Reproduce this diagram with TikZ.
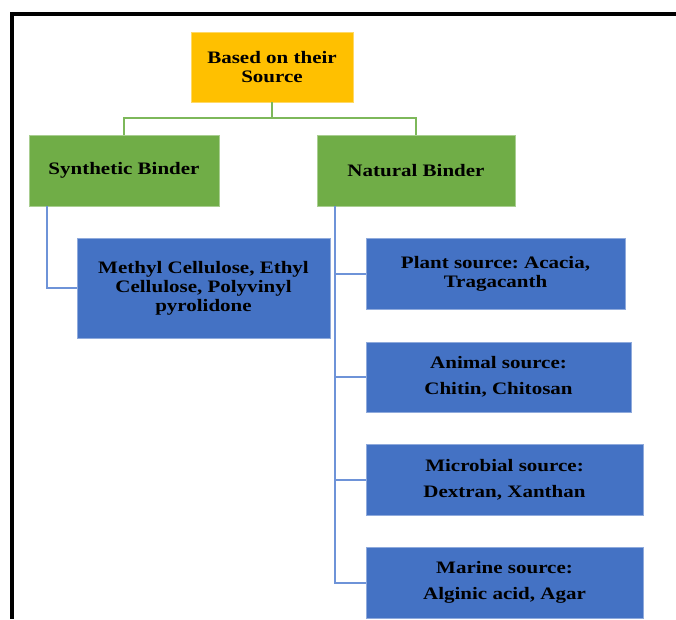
\documentclass[tikz,border=0pt]{standalone}
\usepackage{fontspec}
\setmainfont{Liberation Serif}[FakeStretch=1.2]
\frenchspacing
\definecolor{gold}{HTML}{FFC000}
\definecolor{grn}{HTML}{70AD47}
\definecolor{blu}{HTML}{4472C4}
\definecolor{grnline}{HTML}{7DB85A}
\definecolor{bluline}{HTML}{6E93D8}
\begin{document}
\begin{tikzpicture}[x=1pt,y=-1pt,
  box/.style={inner sep=0pt, align=center, font=\fontsize{17.5}{19}\selectfont\bfseries\frenchspacing, text=black, line width=0.8pt},
  goldbox/.style={box, fill=gold, draw=gold!60!white},
  grnbox/.style={box, fill=grn, draw=grn!60!white},
  blubox/.style={box, fill=blu, draw=blu!60!white},
  gconn/.style={draw=grnline, line width=2pt},
  bconn/.style={draw=bluline, line width=2pt},
  frame/.style={draw=black, line width=4pt}]
\useasboundingbox (0,0) rectangle (676,619);
\coordinate (ftl) at (12,14);
\coordinate (ftr) at (676,14);
\coordinate (fbl) at (12,619);
\draw[frame] (ftr) -- ([xshift=-2pt]ftl) (ftl) -- (fbl);

\node[goldbox, minimum width=162pt, minimum height=70pt] (top) at (272,67) {Based on their\\Source};
\node[grnbox, minimum width=190pt, minimum height=71pt] (syn) at (124,170.5) {Synthetic Binder};
\node[grnbox, minimum width=198pt, minimum height=71pt] (nat) at (416,170.5) {Natural Binder};
\node[blubox, minimum width=253pt, minimum height=100pt] (met) at (203.5,288) {Methyl Cellulose, Ethyl\\Cellulose, Polyvinyl\\pyrolidone};
\node[blubox, minimum width=259pt, minimum height=71pt] (pla) at (495.5,273.5) {Plant source: Acacia,\\Tragacanth};
\node[blubox, minimum width=265pt, minimum height=70pt] (ani) at (498.5,377) {Animal source:\\[7pt]Chitin, Chitosan};
\node[blubox, minimum width=277pt, minimum height=71pt] (mic) at (504.5,479.5) {Microbial source:\\[7pt]Dextran, Xanthan};
\node[blubox, minimum width=277pt, minimum height=71pt] (mar) at (504.5,582.5) {Marine source:\\[7pt]Alginic acid, Agar};

\draw[gconn] (top.south) -- ++(0,16) -| (syn.north);
\draw[gconn] (top.south) -- ++(0,16) -| (nat.north);
\draw[bconn] ([xshift=18pt]syn.south west) |- (met.west);
\draw[bconn] ([xshift=18pt]nat.south west) |- (mar.west);
\draw[bconn] ([xshift=18pt]nat.south west) |- (pla.west);
\draw[bconn] ([xshift=18pt]nat.south west) |- (ani.west);
\draw[bconn] ([xshift=18pt]nat.south west) |- (mic.west);
\end{tikzpicture}
\end{document}
